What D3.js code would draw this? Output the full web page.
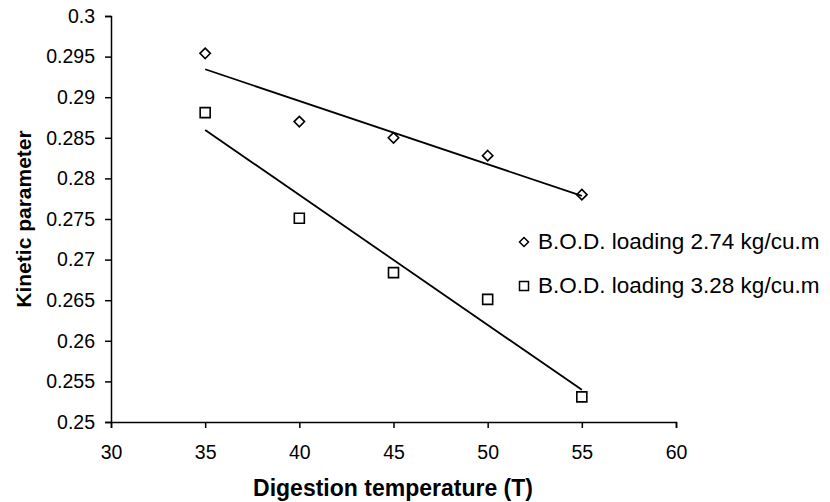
<!DOCTYPE html>
<html>
<head>
<meta charset="utf-8">
<script src="https://cdn.jsdelivr.net/npm/d3@7"></script>
<style>
  body { margin: 0; background: #fff; }
  text { font-family: "Liberation Sans", Arial, Helvetica, sans-serif; fill: #000; }
</style>
</head>
<body>
<div id="chart"></div>
<script>
// data
var temperatures = [35, 40, 45, 50, 55];
var load274 = [0.2954, 0.2870, 0.2850, 0.2828, 0.2780];
var load328 = [0.2881, 0.2751, 0.2684, 0.2651, 0.2531];
var seriesNames = ["B.O.D. loading 2.74 kg/cu.m", "B.O.D. loading 3.28 kg/cu.m"];
var xTicks = [30, 35, 40, 45, 50, 55, 60];
var yTicks = [0.25, 0.255, 0.26, 0.265, 0.27, 0.275, 0.28, 0.285, 0.29, 0.295, 0.3];

var width = 830, height = 502;
var margin = { top: 16, right: 154, bottom: 80, left: 111 };

var svg = d3.select("#chart").append("svg")
    .attr("width", width)
    .attr("height", height);

var g = svg.append("g")
    .attr("transform", "translate(" + margin.left + "," + margin.top + ")");

var w = width - margin.left - margin.right;
var h = height - margin.top - margin.bottom;

var x = d3.scaleLinear().domain([30, 60]).range([0, w]);
var y = d3.scaleLinear().domain([0.25, 0.3]).range([h, 0]);

// least squares trend line
function fit(xs, ys) {
  var mx = d3.mean(xs), my = d3.mean(ys);
  var num = d3.sum(xs, function (v, i) { return (v - mx) * (ys[i] - my); });
  var den = d3.sum(xs, function (v) { return (v - mx) * (v - mx); });
  var b = num / den;
  return function (v) { return my + b * (v - mx); };
}

// axes
var xAxis = d3.axisBottom(x).tickValues(xTicks).tickSize(6).tickPadding(17).tickFormat(d3.format("d"));
var yAxis = d3.axisLeft(y).tickValues(yTicks).tickSize(6).tickPadding(10)
    .tickFormat(function (d) { return String(+d.toFixed(3)); });

var gx = g.append("g").attr("transform", "translate(0," + h + ")").call(xAxis);
var gy = g.append("g").call(yAxis);

[gx, gy].forEach(function (ax) {
  ax.select(".domain").attr("stroke", "#000").attr("stroke-width", 1.5);
  ax.selectAll(".tick line").attr("stroke", "#000").attr("stroke-width", 1.5);
  ax.selectAll(".tick text").attr("font-size", 19.5).attr("fill", "#000");
});

// axis titles
svg.append("text")
    .attr("x", 393)
    .attr("y", 496)
    .attr("text-anchor", "middle")
    .attr("font-size", 23)
    .attr("font-weight", "bold")
    .text("Digestion temperature (T)");

svg.append("text")
    .attr("transform", "translate(31," + (margin.top + h / 2) + ") rotate(-90)")
    .attr("text-anchor", "middle")
    .attr("font-size", 21)
    .attr("font-weight", "bold")
    .text("Kinetic parameter");

var series = [
  { name: seriesNames[0], values: load274, shape: "diamond" },
  { name: seriesNames[1], values: load328, shape: "square" }
];

function markerPath(shape, r) {
  if (shape === "diamond") {
    return "M0," + (-r) + "L" + r + ",0L0," + r + "L" + (-r) + ",0Z";
  }
  return "M" + (-r) + "," + (-r) + "H" + r + "V" + r + "H" + (-r) + "Z";
}

// trend lines
series.forEach(function (s) {
  var f = fit(temperatures, s.values);
  var ends = [temperatures[0], temperatures[temperatures.length - 1]];
  g.append("path")
      .datum(ends)
      .attr("fill", "none")
      .attr("stroke", "#000")
      .attr("stroke-width", 1.8)
      .attr("d", d3.line()
          .x(function (d) { return x(d); })
          .y(function (d) { return y(f(d)); }));
});

// markers
series.forEach(function (s) {
  g.selectAll(".pt-" + s.shape)
      .data(s.values)
      .enter()
      .append("path")
      .attr("class", "pt-" + s.shape)
      .attr("transform", function (d, i) {
        return "translate(" + x(temperatures[i]) + "," + y(d) + ")";
      })
      .attr("d", markerPath(s.shape, s.shape === "diamond" ? 5.2 : 5))
      .attr("fill", "none")
      .attr("stroke", "#000")
      .attr("stroke-width", 1.6);
});

// legend
var legend = svg.append("g");
var legendRows = legend.selectAll("g")
    .data(series)
    .enter()
    .append("g")
    .attr("transform", function (d, i) { return "translate(524," + (242 + i * 44) + ")"; });

legendRows.append("path")
    .attr("d", function (d) { return markerPath(d.shape, 4.5); })
    .attr("fill", "none")
    .attr("stroke", "#000")
    .attr("stroke-width", 1.5);

legendRows.append("text")
    .attr("x", 14)
    .attr("dy", "0.32em")
    .attr("font-size", 22.5)
    .text(function (d) { return d.name; });
</script>
</body>
</html>
